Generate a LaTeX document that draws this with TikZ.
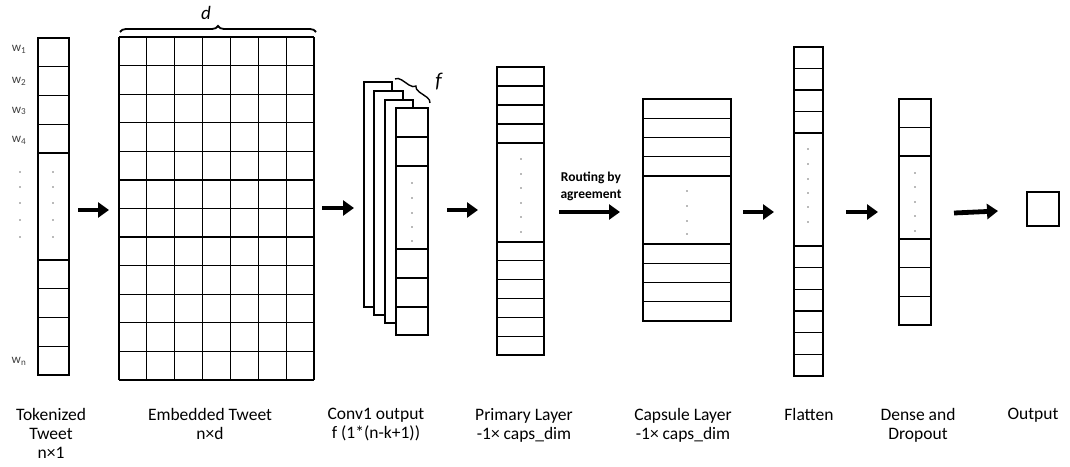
\documentclass[tikz,border=0pt]{standalone}
\usepackage{fontspec}
\setmainfont{Carlito}
\usetikzlibrary{arrows.meta,decorations.pathreplacing}

\tikzset{
  cellline/.style={line width=1.2pt},
  fatarrow/.style={line width=4.8pt,-{Triangle[length=11pt,width=15pt]}},
  caption/.style={align=center,anchor=north,inner sep=0pt,font=\fontsize{17.5}{19}\selectfont},
  wlabel/.style={inner sep=0pt,text=black!75,font=\fontsize{13}{15}\selectfont},
  dotmark/.style={fill=black!55},
}

\begin{document}
\begin{tikzpicture}[x=1pt,y=-1pt]
\useasboundingbox (0,0) rectangle (1070,466);

% tokenized tweet
\draw[cellline] (38,38) rectangle (69,375);
\foreach \y in {66.75,95.5,124.25,153,260,288.75,317.5,346.25}
  \draw[cellline] (38,\y) -- (69,\y);
\foreach \y in {172,187,203,220,237} {
  \fill[dotmark] (53,\y) circle (0.8);
  \fill[dotmark] (20,\y) circle (0.8);
}
\draw (19,49) node[wlabel] (w1) {w\textsubscript{1}};
\draw (19,81) node[wlabel] (w2) {w\textsubscript{2}};
\draw (19,111) node[wlabel] (w3) {w\textsubscript{3}};
\draw (19,140) node[wlabel] (w4) {w\textsubscript{4}};
\draw (19,361) node[wlabel] (wn) {w\textsubscript{n}};

% embedded tweet
\foreach \i in {0,...,7}
  \draw[cellline] (119+27.857*\i,37) -- (119+27.857*\i,380);
\foreach \j in {0,...,12}
  \draw[cellline] (119,37+28.583*\j) -- (314,37+28.583*\j);
\draw[line width=1.8pt,decorate,decoration={brace,amplitude=6pt}] (120,32) -- (316,32);
\draw (206,13) node[inner sep=0pt,font=\fontsize{19}{19}\selectfont] (dlab) {\textit{d}};

% conv1 output
\draw[cellline,fill=white] (364,82) rectangle (392,307);
\draw[cellline,fill=white] (374,91) rectangle (403,315);
\draw[cellline,fill=white] (385,100) rectangle (413,323);
\draw[cellline,fill=white] (396,108) rectangle (428,335);
\foreach \y in {137,166,249,278,307}
  \draw[cellline] (396,\y) -- (428,\y);
\foreach \y in {183,198,213,227,241}
  \fill[dotmark] (412,\y) circle (0.8);
\draw[line width=1.4pt,decorate,decoration={brace,amplitude=6pt}] (395,79) -- (430,103);
\draw (439,82) node[inner sep=0pt,font=\fontsize{21}{21}\selectfont] (flab) {\textit{f}};

% primary layer
\draw[cellline] (497,67) rectangle (544,355);
\foreach \y in {86,105,124,143,242,260.8,279.7,298.5,317.3,336.2}
  \draw[cellline] (497,\y) -- (544,\y);
\foreach \y in {159,174,188,203,217,232}
  \fill[dotmark] (521,\y) circle (0.8);

% capsule layer
\draw[cellline] (643,99) rectangle (731,321);
\foreach \y in {118.25,137.5,156.75,176,244,263.25,282.5,301.75}
  \draw[cellline] (643,\y) -- (731,\y);
\foreach \y in {191,206,221,234}
  \fill[dotmark] (687,\y) circle (0.8);

% flatten
\draw[cellline] (794,47) rectangle (823,376);
\foreach \y in {68.5,90,111.5,133,246,267.7,289.3,311,332.7,354.3}
  \draw[cellline] (794,\y) -- (823,\y);
\foreach \y in {149,164,179,193,207,222}
  \fill[dotmark] (808,\y) circle (0.8);

% dense and dropout
\draw[cellline] (899,99) rectangle (931,325);
\foreach \y in {127.5,156,239,267.7,296.3}
  \draw[cellline] (899,\y) -- (931,\y);
\foreach \y in {173,187,202,216,231}
  \fill[dotmark] (915,\y) circle (0.8);

% output
\draw[cellline] (1027,192) rectangle (1059,226);

% arrows
\coordinate (tok-out) at (78,210);   \coordinate (emb-in) at (109,210);
\coordinate (emb-out) at (322,208);  \coordinate (conv-in) at (354,208);
\coordinate (conv-out) at (447,210); \coordinate (prim-in) at (478,210);
\coordinate (prim-out) at (559,212); \coordinate (caps-in) at (620,212);
\coordinate (caps-out) at (743,212); \coordinate (flat-in) at (774,212);
\coordinate (flat-out) at (846,212); \coordinate (dense-in) at (878,212);
\coordinate (dense-out) at (954,213); \coordinate (out-in) at (998,211);
\draw[fatarrow] (tok-out) -- (emb-in);
\draw[fatarrow] (emb-out) -- (conv-in);
\draw[fatarrow] (conv-out) -- (prim-in);
\draw[fatarrow] (prim-out) -- (caps-in);
\draw[fatarrow] (caps-out) -- (flat-in);
\draw[fatarrow] (flat-out) -- (dense-in);
\draw[fatarrow] (dense-out) -- (out-in);
\draw (591,186) node[align=center,inner sep=0pt,font=\bfseries\fontsize{13.5}{17}\selectfont] (routing) {Routing by\\agreement};

% captions
\draw (51,408) node[caption] (captok) {Tokenized\\Tweet\\n×1};
\draw (210,408) node[caption] (capemb) {Embedded Tweet\\n×d};
\draw (376,408) node[caption] (capconv) {Conv1 output\\f (1*(n-k+1))};
\draw (524,408) node[caption] (capprim) {Primary Layer\\-1× caps\_dim};
\draw (683,408) node[caption] (capcaps) {Capsule Layer\\-1× caps\_dim};
\draw (809,408) node[caption] (capflat) {Flatten};
\draw (918,408) node[caption] (capdense) {Dense and\\Dropout};
\draw (1033,408) node[caption] (capout) {Output};
\end{tikzpicture}
\end{document}
